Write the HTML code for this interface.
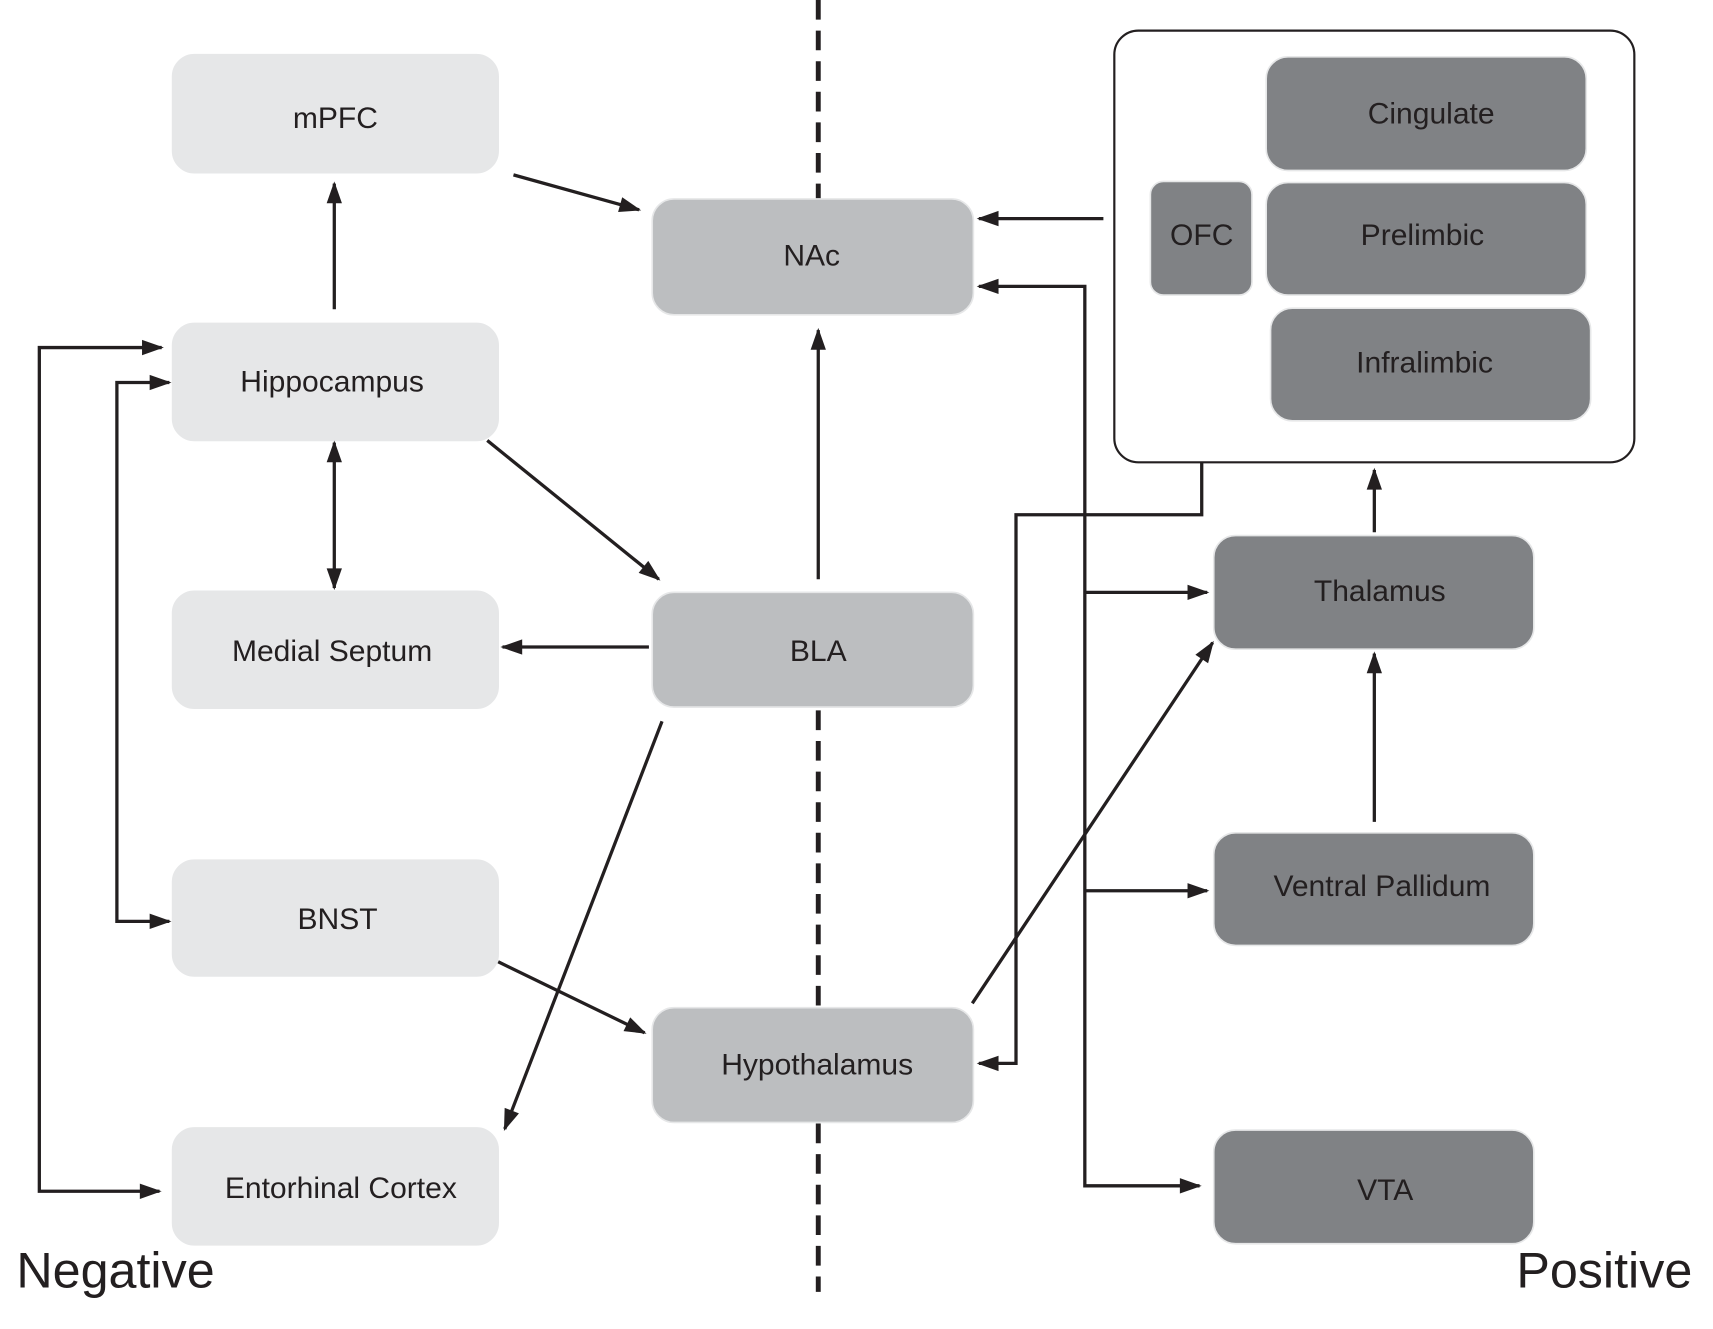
<!DOCTYPE html>
<html><head><meta charset="utf-8"><style>html,body{margin:0;padding:0;background:#fff}svg{display:block}</style></head>
<body>
<svg width="1713" height="1329" viewBox="0 0 1568 1216" preserveAspectRatio="none" xmlns="http://www.w3.org/2000/svg" font-family="Liberation Sans, sans-serif">
<defs>
<marker id="b" viewBox="0 0 10 10" refX="9" refY="5" markerWidth="24" markerHeight="20" markerUnits="userSpaceOnUse" orient="auto-start-reverse"><path d="M0,1.5 L10,5 L0,8.5 z" fill="#231f20"/></marker>
</defs>
<g stroke="#231f20" stroke-width="4.5" stroke-dasharray="18,10" fill="none">
<line x1="749" y1="0" x2="749" y2="182"/>
<line x1="749" y1="650" x2="749" y2="922"/>
<line x1="749" y1="1028" x2="749" y2="1182"/>
</g>
<rect x="1020" y="28" width="476" height="395" rx="22" fill="#fff" stroke="#231f20" stroke-width="2"/>
<g stroke="#e6e7e8" stroke-width="1.5">
<rect x="158" y="50" width="298" height="108" rx="20" fill="#e6e7e8"/>
<rect x="158" y="296" width="298" height="107" rx="20" fill="#e6e7e8"/>
<rect x="158" y="541" width="298" height="107" rx="20" fill="#e6e7e8"/>
<rect x="158" y="787" width="298" height="106" rx="20" fill="#e6e7e8"/>
<rect x="158" y="1032" width="298" height="107" rx="20" fill="#e6e7e8"/>
<rect x="597" y="182" width="294" height="106" rx="20" fill="#bcbec0"/>
<rect x="597" y="542" width="294" height="105" rx="20" fill="#bcbec0"/>
<rect x="597" y="922" width="294" height="105" rx="20" fill="#bcbec0"/>
<rect x="1159" y="52" width="293" height="104" rx="20" fill="#808285"/>
<rect x="1159" y="167" width="293" height="103" rx="20" fill="#808285"/>
<rect x="1163" y="282" width="293" height="103" rx="20" fill="#808285"/>
<rect x="1053" y="166" width="93" height="104" rx="12" fill="#808285"/>
<rect x="1111" y="490" width="293" height="104" rx="20" fill="#808285"/>
<rect x="1111" y="762" width="293" height="103" rx="20" fill="#808285"/>
<rect x="1111" y="1034" width="293" height="104" rx="20" fill="#808285"/>
</g>
<g font-size="27.5" fill="#231f20" text-anchor="middle">
<text x="307" y="117">mPFC</text>
<text x="304" y="358">Hippocampus</text>
<text x="304" y="605">Medial Septum</text>
<text x="309" y="850">BNST</text>
<text x="312" y="1096">Entorhinal Cortex</text>
<text x="743" y="243">NAc</text>
<text x="749" y="605">BLA</text>
<text x="748" y="983">Hypothalamus</text>
<text x="1310" y="113">Cingulate</text>
<text x="1302" y="224">Prelimbic</text>
<text x="1304" y="341">Infralimbic</text>
<text x="1100" y="224">OFC</text>
<text x="1263" y="550">Thalamus</text>
<text x="1265" y="820">Ventral Pallidum</text>
<text x="1268" y="1098">VTA</text>
</g>
<text x="15" y="1178" font-size="46" fill="#231f20">Negative</text>
<text x="1388" y="1178" font-size="46" fill="#231f20">Positive</text>
<g stroke="#231f20" stroke-width="3" fill="none" marker-end="url(#b)">
<line x1="470" y1="160" x2="585" y2="192"/>
<line x1="306" y1="283" x2="306" y2="168"/>
<line x1="306" y1="405" x2="306" y2="538" marker-start="url(#b)"/>
<line x1="446" y1="403" x2="603" y2="530"/>
<line x1="749" y1="530" x2="749" y2="302"/>
<line x1="594" y1="592" x2="460" y2="592"/>
<line x1="606" y1="660" x2="462" y2="1033"/>
<line x1="456" y1="880" x2="590" y2="945"/>
<line x1="890" y1="918" x2="1110" y2="588"/>
<polyline points="148,318 36,318 36,1090 146,1090" marker-start="url(#b)"/>
<polyline points="155,350 107,350 107,843 155,843" marker-start="url(#b)"/>
<line x1="1010" y1="200" x2="896" y2="200"/>
<polyline points="896,262 993,262 993,1085 1098,1085" marker-start="url(#b)"/>
<line x1="993" y1="542" x2="1105" y2="542"/>
<line x1="993" y1="815" x2="1105" y2="815"/>
<polyline points="1100,423 1100,471 930,471 930,973 896,973"/>
<line x1="1258" y1="487" x2="1258" y2="430"/>
<line x1="1258" y1="752" x2="1258" y2="598"/>
</g>
</svg>
</body></html>
